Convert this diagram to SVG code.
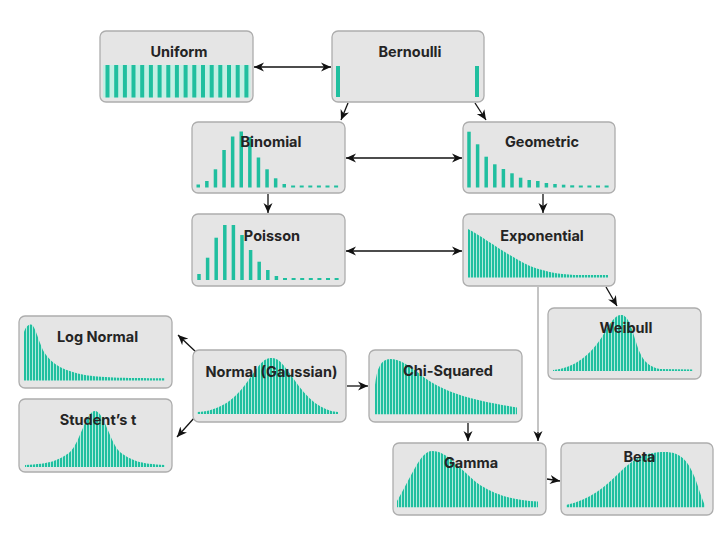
<svg xmlns="http://www.w3.org/2000/svg" width="720" height="540" viewBox="0 0 720 540">
<style>
.box{fill:#e5e5e5;stroke:#adadad;stroke-width:1.3}
.t{font-family:Inter,"Liberation Sans",Arial,sans-serif;font-weight:700;font-size:14.5px;fill:#242424;text-anchor:middle}
.b{fill:#20bf9f}
.hist{fill:url(#stripes)}
.c{fill:none;stroke:#111;stroke-width:1.3}
.g{fill:none;stroke:#a5a5a5;stroke-width:1.3}
</style>
<defs>
<pattern id="stripes" patternUnits="userSpaceOnUse" width="3" height="4">
<rect width="3" height="4" fill="#c3efe4"/>
<rect width="2.1" height="4" fill="#20bf9f"/>
</pattern>
<marker id="ah" markerUnits="userSpaceOnUse" markerWidth="11" markerHeight="10" refX="10" refY="4.5" orient="auto-start-reverse" viewBox="0 0 11 9">
<path d="M0,0 L10,4.5 L0,9 L3,4.5 Z" fill="#111"/>
</marker>
</defs>

<g id="connectors">
<line class="c" x1="254" y1="67" x2="331" y2="67" marker-start="url(#ah)" marker-end="url(#ah)"/>
<line class="c" x1="348" y1="103" x2="341" y2="120" marker-end="url(#ah)"/>
<line class="c" x1="475" y1="103" x2="486" y2="120" marker-end="url(#ah)"/>
<line class="c" x1="346" y1="158" x2="462" y2="158" marker-start="url(#ah)" marker-end="url(#ah)"/>
<line class="c" x1="268" y1="194" x2="268" y2="213" marker-end="url(#ah)"/>
<line class="c" x1="543" y1="194" x2="543" y2="213" marker-end="url(#ah)"/>
<line class="c" x1="346" y1="251" x2="462" y2="251" marker-start="url(#ah)" marker-end="url(#ah)"/>
<line class="c" x1="606" y1="287" x2="617" y2="306" marker-end="url(#ah)"/>
<line class="g" x1="538" y1="287" x2="538" y2="433"/>
<line class="c" x1="538" y1="432" x2="538" y2="441" marker-end="url(#ah)"/>
<line class="c" x1="197" y1="353" x2="178" y2="335" marker-end="url(#ah)"/>
<line class="c" x1="195" y1="417" x2="177" y2="437" marker-end="url(#ah)"/>
<line class="c" x1="347" y1="386" x2="368" y2="386" marker-end="url(#ah)"/>
<line class="c" x1="468" y1="423" x2="468" y2="441" marker-end="url(#ah)"/>
<line class="c" x1="547" y1="479" x2="560" y2="481" marker-end="url(#ah)"/>
</g>

<g id="uniform">
<rect class="box" x="100" y="31" width="153" height="71" rx="6"/>
<rect x="103" y="65" width="147.5" height="32.5" fill="#c3efe4"/>
<g class="b">
<rect x="105.5" y="65" width="4" height="32.5"/><rect x="114.2" y="65" width="4" height="32.5"/><rect x="122.9" y="65" width="4" height="32.5"/><rect x="131.5" y="65" width="4" height="32.5"/><rect x="140.2" y="65" width="4" height="32.5"/><rect x="148.9" y="65" width="4" height="32.5"/><rect x="157.6" y="65" width="4" height="32.5"/><rect x="166.3" y="65" width="4" height="32.5"/><rect x="174.9" y="65" width="4" height="32.5"/><rect x="183.6" y="65" width="4" height="32.5"/><rect x="192.3" y="65" width="4" height="32.5"/><rect x="201" y="65" width="4" height="32.5"/><rect x="209.7" y="65" width="4" height="32.5"/><rect x="218.3" y="65" width="4" height="32.5"/><rect x="227" y="65" width="4" height="32.5"/><rect x="235.7" y="65" width="4" height="32.5"/><rect x="244.4" y="65" width="4" height="32.5"/>
</g>
<text class="t" x="179" y="57">Uniform</text>
</g>

<g id="bernoulli">
<rect class="box" x="332" y="31" width="152" height="71" rx="6"/>
<rect class="b" x="336" y="66" width="4" height="31"/>
<rect class="b" x="475" y="66" width="4" height="31"/>
<text class="t" x="410" y="57">Bernoulli</text>
</g>

<g id="binomial">
<rect class="box" x="192" y="122" width="153" height="71" rx="6"/>
<g class="b">
<rect x="196.5" y="184.5" width="3.5" height="3"/><rect x="205.1" y="181" width="3.5" height="6.5"/><rect x="213.7" y="169.3" width="3.5" height="18.2"/><rect x="222.3" y="150" width="3.5" height="37.5"/><rect x="230.9" y="136.5" width="3.5" height="51"/><rect x="239.5" y="131.5" width="3.5" height="56"/><rect x="248.1" y="137" width="3.5" height="50.5"/><rect x="256.7" y="157.5" width="3.5" height="30"/><rect x="265.3" y="169.3" width="3.5" height="18.2"/><rect x="273.9" y="178.3" width="3.5" height="9.2"/><rect x="282.5" y="184" width="3.5" height="3.5"/>
<rect x="291.1" y="185.5" width="4" height="2"/><rect x="299.7" y="185.5" width="4" height="2"/><rect x="308.3" y="185.5" width="4" height="2"/><rect x="316.9" y="185.5" width="4" height="2"/><rect x="325.5" y="185.5" width="4" height="2"/><rect x="334.1" y="185.5" width="4" height="2"/>
</g>
<text class="t" x="271" y="147">Binomial</text>
</g>

<g id="geometric">
<rect class="box" x="463" y="122" width="152" height="71" rx="6"/>
<g class="b">
<rect x="467.25" y="131.7" width="3.5" height="55.8"/><rect x="475.85" y="144.3" width="3.5" height="43.2"/><rect x="484.45" y="156.7" width="3.5" height="30.8"/><rect x="493.05" y="164.3" width="3.5" height="23.2"/><rect x="501.65" y="169" width="3.5" height="18.5"/><rect x="510.25" y="173.3" width="3.5" height="14.2"/><rect x="518.85" y="177.7" width="3.5" height="9.8"/><rect x="527.45" y="180" width="3.5" height="7.5"/><rect x="536.05" y="181" width="3.5" height="6.5"/><rect x="544.65" y="183" width="3.5" height="4.5"/><rect x="553.25" y="184" width="3.5" height="3.5"/><rect x="561.85" y="184.7" width="3.5" height="2.8"/>
<rect x="570.2" y="185.3" width="4" height="2.2"/><rect x="578.8" y="185.5" width="4" height="2"/><rect x="587.4" y="185.5" width="4" height="2"/><rect x="596" y="185.5" width="4" height="2"/><rect x="604.6" y="185.5" width="4" height="2"/>
</g>
<text class="t" x="542" y="147">Geometric</text>
</g>

<g id="poisson">
<rect class="box" x="192" y="214" width="153" height="72" rx="6"/>
<g class="b">
<rect x="197.25" y="274" width="3.5" height="6"/><rect x="205.85" y="257.7" width="3.5" height="22.3"/><rect x="214.45" y="237.7" width="3.5" height="42.3"/><rect x="223.05" y="225" width="3.5" height="55"/><rect x="231.65" y="225" width="3.5" height="55"/><rect x="240.25" y="235" width="3.5" height="45"/><rect x="248.85" y="250" width="3.5" height="30"/><rect x="257.45" y="261.7" width="3.5" height="18.3"/><rect x="266.05" y="270" width="3.5" height="10"/><rect x="274.65" y="276" width="3.5" height="4"/>
<rect x="283" y="278" width="4" height="2"/><rect x="291.6" y="278" width="4" height="2"/><rect x="300.2" y="278" width="4" height="2"/><rect x="308.8" y="278" width="4" height="2"/><rect x="317.4" y="278" width="4" height="2"/><rect x="326" y="278" width="4" height="2"/><rect x="334.6" y="278" width="4" height="2"/>
</g>
<text class="t" x="272" y="241">Poisson</text>
</g>

<g id="exponential">
<rect class="box" x="463" y="214" width="152" height="72" rx="6"/>
<path class="hist" d="M468,277.5 L468,229 C485,238 505,254 530,266 C548,273 565,275 580,275 L608,275 L608,277.5 Z"/>
<text class="t" x="542" y="241">Exponential</text>
</g>

<g id="lognormal">
<rect class="box" x="19" y="316" width="153" height="72" rx="6"/>
<path class="hist" d="M24,380.5 L24,332 C26,326 29,324 31,324.5 C35,325 38,340 44,352 C52,365 65,371 85,375 C100,377.5 120,378 165,378.3 L165,380.5 Z"/>
<text class="t" x="97.5" y="342">Log Normal</text>
</g>

<g id="studentst">
<rect class="box" x="19" y="399" width="153" height="73" rx="6"/>
<path class="hist" d="M25,467 L25,465 C50,464 60,460 70,452 C80,443 86,411 95,411 C104,411 110,443 120,452 C130,460 140,464 165,465 L165,467 Z"/>
<text class="t" x="98" y="425">Student’s t</text>
</g>

<g id="normal">
<rect class="box" x="193" y="350" width="153" height="72" rx="6"/>
<path class="hist" d="M197,414 L197,412 C220,411 235,400 250,378 C262,360 266,358 271.7,358 C278,358 282,362 293,378 C308,400 322,411 338,412 L338,414 Z"/>
<text class="t" x="271.5" y="377">Normal (Gaussian)</text>
</g>

<g id="chisquared">
<rect class="box" x="369" y="350" width="153" height="72" rx="6"/>
<path class="hist" d="M375,414.3 L375,385 C377,368 381,359 390,359 C400,359 410,366 425,378 C445,392 470,400 517,407.5 L517,414.3 Z"/>
<text class="t" x="448" y="376">Chi-Squared</text>
</g>

<g id="weibull">
<rect class="box" x="548" y="308" width="153" height="71" rx="6"/>
<path class="hist" d="M553,371 L553,370 C575,368 590,355 602,337 C610,323 615,315 621,315 C627,315 630,322 636,342 C641,358 646,366 660,369 L693,369.5 L693,371 Z"/>
<text class="t" x="626" y="333">Weibull</text>
</g>

<g id="gamma">
<rect class="box" x="393" y="443" width="153" height="72" rx="6"/>
<path class="hist" d="M397,507.3 L397,501 C410,480 420,451 432,451 C448,451 460,470 480,485 C500,497 515,500 538,501.5 L538,507.3 Z"/>
<text class="t" x="471" y="468">Gamma</text>
</g>

<g id="beta">
<rect class="box" x="561" y="443" width="152" height="72" rx="6"/>
<path class="hist" d="M566,507.3 L566,505 C590,500 605,487 620,472 C635,458 645,452 665,452 C680,452 688,460 695,478 C700,492 703,502 705,505 L705,507.3 Z"/>
<text class="t" x="639.5" y="462">Beta</text>
</g>
</svg>
